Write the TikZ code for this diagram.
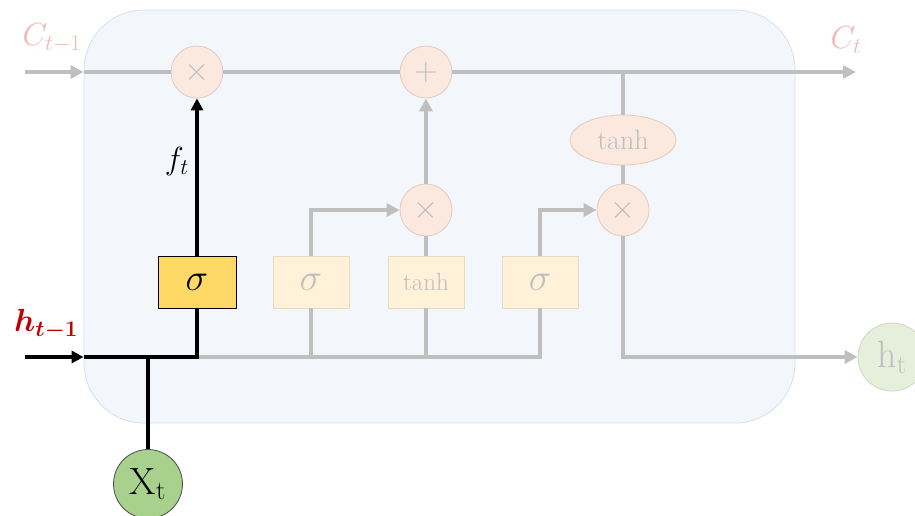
\RequirePackage{fix-cm}
\documentclass[tikz,border=0pt]{standalone}
\usepackage{amsmath}
\usetikzlibrary{arrows.meta}
\usetikzlibrary{shapes.geometric}

\definecolor{cellfill}{HTML}{F3F6FA}
\definecolor{celldraw}{HTML}{D5E0EC}
\definecolor{lgray}{HTML}{BFBFBF}
\definecolor{opfill}{HTML}{FBE8DE}
\definecolor{opdraw}{HTML}{E2CBC0}
\definecolor{gatefill}{HTML}{FFF2D8}
\definecolor{gatedraw}{HTML}{E6DCC4}
\definecolor{sigyellow}{HTML}{FFD966}
\definecolor{cpink}{HTML}{F0B8B2}
\definecolor{hred}{HTML}{C00000}
\definecolor{xgreen}{HTML}{A9D18E}
\definecolor{hgreen}{HTML}{E6EEDC}
\definecolor{hgreendraw}{HTML}{CDD6C4}

\tikzset{
  gline/.style={draw=lgray,line width=4pt},
  bline/.style={draw=black,line width=4.5pt},
  garrow/.style={-{Triangle[length=13pt,width=13pt]}},
  barrow/.style={-{Triangle[length=12pt,width=12pt]}},
  op/.style={circle,draw=opdraw,fill=opfill,line width=0.8pt,minimum size=52pt,
    inner sep=0pt,text=lgray,font=\fontsize{32}{32}\selectfont},
  gate/.style={rectangle,draw=gatedraw,fill=gatefill,line width=0.8pt,
    minimum width=76pt,minimum height=52pt,inner sep=0pt,text=lgray},
  lbl/.style={font=\fontsize{32}{32}\selectfont,inner sep=0pt}
}

\begin{document}
\begin{tikzpicture}[x=1pt,y=-1pt]
\useasboundingbox (0,0) rectangle (915,515);

% cell body
\node[draw=celldraw,fill=cellfill,line width=0.8pt,rounded corners=60pt,
  minimum width=711pt,minimum height=413pt] (cell) at (439.5,216.5) {};

% pointwise operations
\node[op] (mulf) at (197,72) {$\times$};
\node[op] (add) at (426,72) {$+$};
\node[op] (muli) at (426,210) {$\times$};
\node[op] (mulo) at (623,210) {$\times$};
\node[ellipse,draw=opdraw,fill=opfill,line width=0.8pt,minimum width=106pt,
  minimum height=50pt,inner sep=0pt,text=lgray,font=\fontsize{28}{28}\selectfont]
  (tanhc) at (623,140) {tanh};

% gates
\node[rectangle,draw=black,fill=sigyellow,line width=0.8pt,minimum width=78pt,
  minimum height=52pt,inner sep=0pt,font=\fontsize{38}{38}\selectfont]
  (sigf) at (197,282) {$\sigma$};
\node[gate,font=\fontsize{38}{38}\selectfont] (sigi) at (311,282) {$\sigma$};
\node[gate,font=\fontsize{25}{25}\selectfont] (tnh) at (426,282) {tanh};
\node[gate,font=\fontsize{38}{38}\selectfont] (sigo) at (540,282) {$\sigma$};

% inputs and output
\node[circle,draw=black!70,fill=xgreen,line width=0.8pt,minimum size=69pt,inner sep=0pt,
  font=\fontsize{38}{38}\selectfont] (xt) at (148,484) {X$_{\mathrm{t}}$};
\node[circle,draw=hgreendraw,fill=hgreen,line width=0.8pt,minimum size=68pt,inner sep=0pt,
  text=lgray,font=\fontsize{38}{38}\selectfont] (ht) at (892,357) {h$_{\mathrm{t}}$};

\coordinate (cin) at (25,72);
\coordinate (cout) at (856,72);
\coordinate (hin) at (25,357);
\coordinate (hj) at (197,357);
\coordinate (br) at (623,72);

% cell state line
\draw[gline,garrow] (cin) -- (cell.west |- cin);
\draw[gline] (cell.west |- cin) -- (mulf);
\draw[gline] (mulf) -- (add);
\draw[gline,garrow] (add) -- (cout);
\draw[gline] (br) -- (tanhc);
\draw[gline] (tanhc) -- (mulo);

% grey gate connections
\draw[gline] (hj) -- (sigo |- hj) -- (sigo);
\draw[gline] (sigi |- hj) -- (sigi);
\draw[gline] (tnh |- hj) -- (tnh);
\draw[gline,garrow] (sigi) |- (muli);
\draw[gline] (tnh) -- (muli);
\draw[gline,garrow] (muli) -- (add);
\draw[gline,garrow] (sigo) |- (mulo);
\draw[gline,garrow] (mulo) |- (ht);

% forget gate path
\draw[bline,barrow] (hin) -- (cell.west |- hin);
\draw[bline] (cell.west |- hin) -- (hj) -- (sigf);
\draw[bline] (xt) -- (xt |- hin);
\draw[bline,barrow] (sigf) -- (mulf) node[pos=0.6,left=6pt,lbl] (ft) {$f_t$};

% labels
\node[lbl,text=cpink] (clast) at (52,38) {$C_{t-1}$};
\node[lbl,text=cpink] (cnow) at (846,40) {$C_t$};
\node[lbl,text=hred] (hlast) at (46,324) {$\boldsymbol{h_{t-1}}$};

\end{tikzpicture}
\end{document}
